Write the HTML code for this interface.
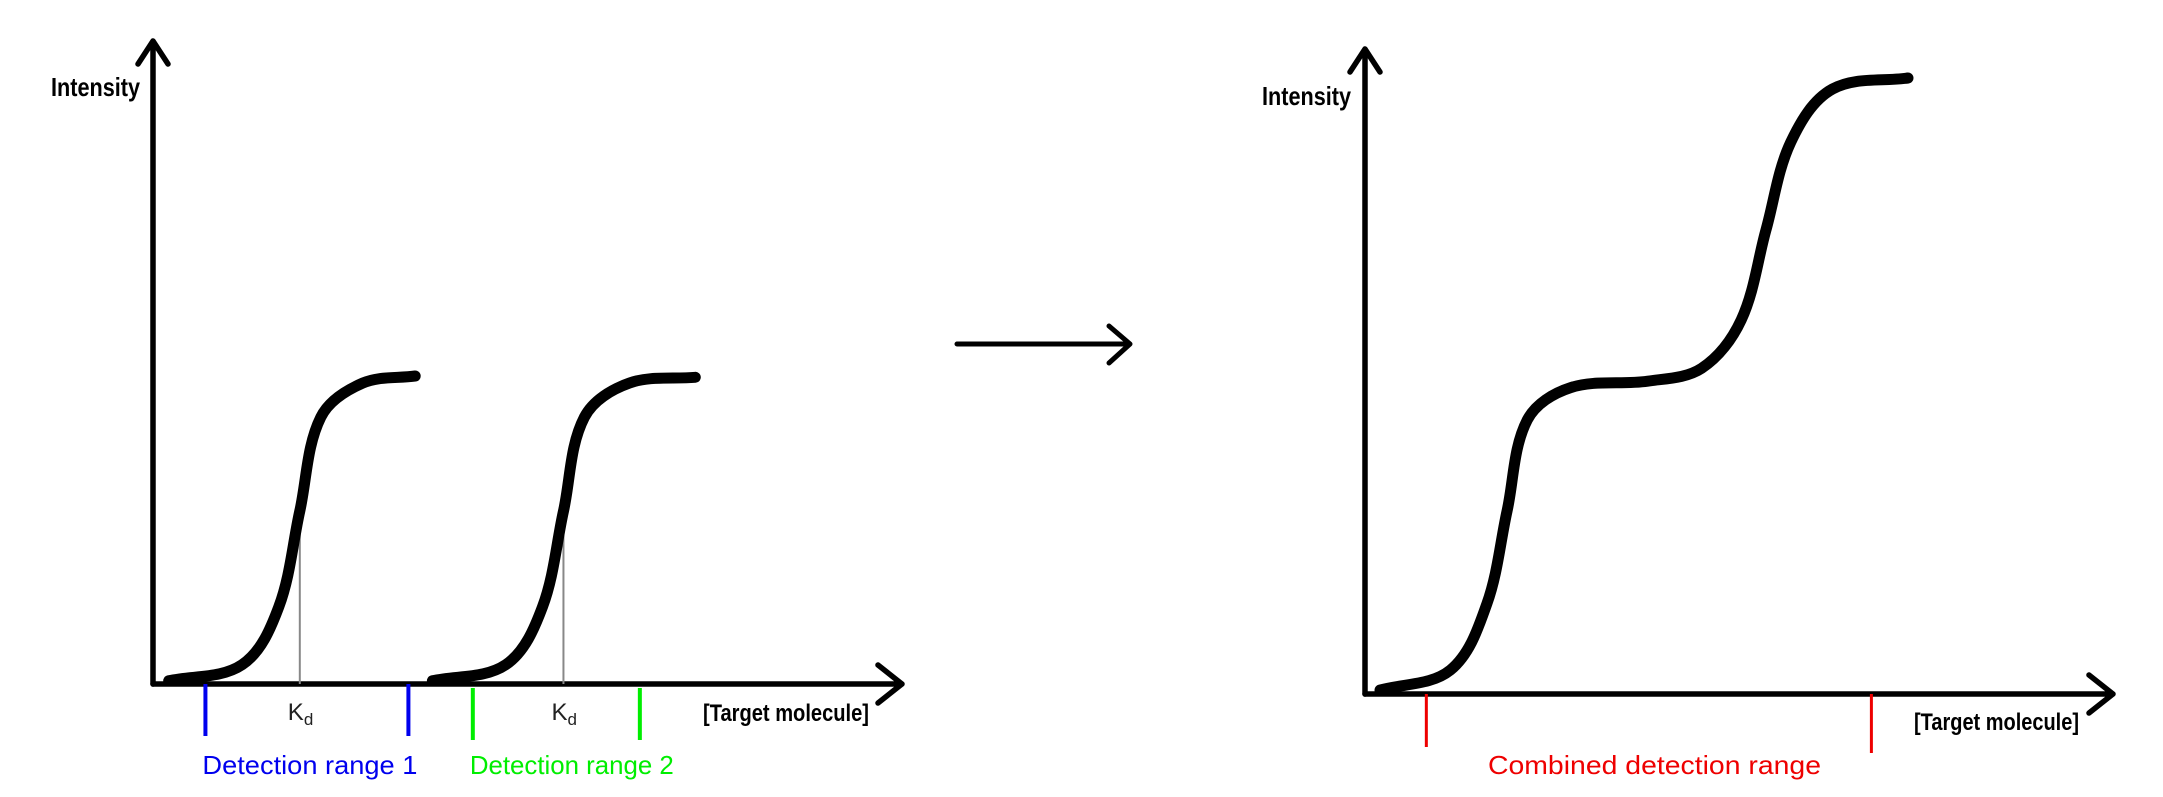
<!DOCTYPE html>
<html><head><meta charset="utf-8"><style>
html,body{margin:0;padding:0;background:#fff;width:2163px;height:797px;overflow:hidden}
svg{display:block}
.hand{font-family:"Liberation Sans Narrow","Liberation Sans",sans-serif;font-weight:bold}
.lab{font-family:"Liberation Sans","DejaVu Sans",sans-serif}
</style></head><body>
<svg id="chart" width="2163" height="797" viewBox="0 0 2163 797" xmlns="http://www.w3.org/2000/svg">
<g id="left">
 <path d="M153,684 L153,41 M138,64 L153,41 L168,64" fill="none" stroke="#000" stroke-width="5.5" stroke-linecap="round" stroke-linejoin="round"/>
 <path d="M153,684 L902,684 M878,665 L902,684 L878,703" fill="none" stroke="#000" stroke-width="5.5" stroke-linecap="round" stroke-linejoin="round"/>
 <text class="hand" x="51" y="96" font-size="26" textLength="89" lengthAdjust="spacingAndGlyphs">Intensity</text>
 <text class="hand" x="703" y="721" font-size="24" textLength="166" lengthAdjust="spacingAndGlyphs">[Target molecule]</text>
</g>
<g id="right">
 <path d="M1365,694 L1365,49 M1350,72 L1365,49 L1380,72" fill="none" stroke="#000" stroke-width="5.5" stroke-linecap="round" stroke-linejoin="round"/>
 <path d="M1365,694 L2113,694 M2089,675 L2113,694 L2089,713" fill="none" stroke="#000" stroke-width="5.5" stroke-linecap="round" stroke-linejoin="round"/>
 <text class="hand" x="1262" y="105" font-size="26" textLength="89" lengthAdjust="spacingAndGlyphs">Intensity</text>
 <text class="hand" x="1914" y="730" font-size="24" textLength="165" lengthAdjust="spacingAndGlyphs">[Target molecule]</text>
</g>
<path d="M957,344 L1130,344 M1109,326 L1130,344 L1109,363" fill="none" stroke="#000" stroke-width="5" stroke-linecap="round" stroke-linejoin="round"/>
</svg>
<script>
// Left chart data (units 0..100)
const curve1X = [2.1,11.9,16.8,19.6,22.4,28.0,35.0];
const curve1Y = [0.5,3.0,12.0,26.9,41.5,46.8,47.9];
const curve2X = [37.3,47.1,52.0,54.8,57.6,63.6,72.4];
const curve2Y = [0.5,3.0,12.0,26.9,41.5,46.8,47.7];
const kdX = [19.6,54.8];
const kdY = [26.9,26.9];
const kdLabels = ["K","K"];
const range1X = [7.0,34.1];
const range2X = [42.7,65.0];
const rangeLabels = ["Detection range 1","Detection range 2"];
// Right chart data
const combX = [2.0,11.4,16.3,19.0,21.7,27.5,37.8,45.0,50.3,53.6,56.9,62.5,72.6];
const combY = [0.6,3.7,14.0,28.4,42.5,47.5,48.5,50.5,58.0,71.9,85.5,93.8,95.5];
const combRangeX = [8.2,67.7];
const combLabel = ["Combined detection range"];

const NS="http://www.w3.org/2000/svg";
const lx=v=>153+v*7.49, ly=v=>684-v*6.43;
const rx=v=>1365+v*7.48, ry=v=>694-v*6.45;

// chord-length-scaled tangent spline
function smooth(pts){
  const n=pts.length, tan=[];
  for(let i=0;i<n;i++){
    const a=pts[Math.max(0,i-1)], b=pts[Math.min(n-1,i+1)];
    let dx=b[0]-a[0], dy=b[1]-a[1]; const l=Math.hypot(dx,dy)||1;
    tan.push([dx/l,dy/l]);
  }
  let d="M"+pts[0][0].toFixed(1)+","+pts[0][1].toFixed(1);
  for(let i=0;i<n-1;i++){
    const p1=pts[i],p2=pts[i+1];
    const L=Math.hypot(p2[0]-p1[0],p2[1]-p1[1])/3;
    const c1=[p1[0]+tan[i][0]*L,p1[1]+tan[i][1]*L];
    const c2=[p2[0]-tan[i+1][0]*L,p2[1]-tan[i+1][1]*L];
    d+=" C"+c1.map(v=>v.toFixed(1)).join(",")+" "+c2.map(v=>v.toFixed(1)).join(",")+" "+p2.map(v=>v.toFixed(1)).join(",");
  }
  return d;
}
function mk(tag,attrs,parent){
  const e=document.createElementNS(NS,tag);
  for(const k in attrs)e.setAttribute(k,attrs[k]);
  parent.appendChild(e);return e;
}
const L=document.getElementById('left'), R=document.getElementById('right');

kdX.forEach((v,i)=>{
  const ln=mk('line',{x1:lx(v),y1:ly(kdY[i]),x2:lx(v),y2:ly(0),stroke:'#888','stroke-width':2},L);
  
  
  const t=mk('text',{x:lx(v)-12,y:720,'font-size':24,fill:'#222',class:'lab'},L);
  
  
  t.textContent=kdLabels[i];
  const s=mk('tspan',{'font-size':17,dy:5},t);
  s.textContent='d';
});

[[curve1X,curve1Y,'curve-1'],[curve2X,curve2Y,'curve-2']].forEach(([xs,ys,n])=>{
  const p=mk('path',{d:smooth(xs.map((v,i)=>[lx(v),ly(ys[i])])),fill:'none',stroke:'#000','stroke-width':11,'stroke-linecap':'round'},L);
  
  
});

[[range1X,'#0000ee',0,684,736],[range2X,'#00ee00',1,688,740]].forEach(([xs,col,i,y1,y2])=>{
  xs.forEach(v=>{
    const t=mk('line',{x1:lx(v),y1:y1,x2:lx(v),y2:y2,stroke:col,'stroke-width':4},L);
    
    
  });
  const tx=mk('text',{x:lx(xs[0])-3,y:774,'font-size':26,fill:col,class:'lab',textLength:i?204:215,lengthAdjust:'spacingAndGlyphs'},L);
  
  
  tx.textContent=rangeLabels[i];
});

const cp=mk('path',{d:smooth(combX.map((v,i)=>[rx(v),ry(combY[i])])),fill:'none',stroke:'#000','stroke-width':11,'stroke-linecap':'round'},R);


combRangeX.forEach((v,i)=>{
  const t=mk('line',{x1:rx(v),y1:694,x2:rx(v),y2:i?753:747,stroke:'#ee0000','stroke-width':3},R);
  
  
});
const ct=mk('text',{x:1488,y:774,'font-size':26,fill:'#ee0000',class:'lab',textLength:333,lengthAdjust:'spacingAndGlyphs'},R);


ct.textContent=combLabel[0];
</script>
</body></html>
